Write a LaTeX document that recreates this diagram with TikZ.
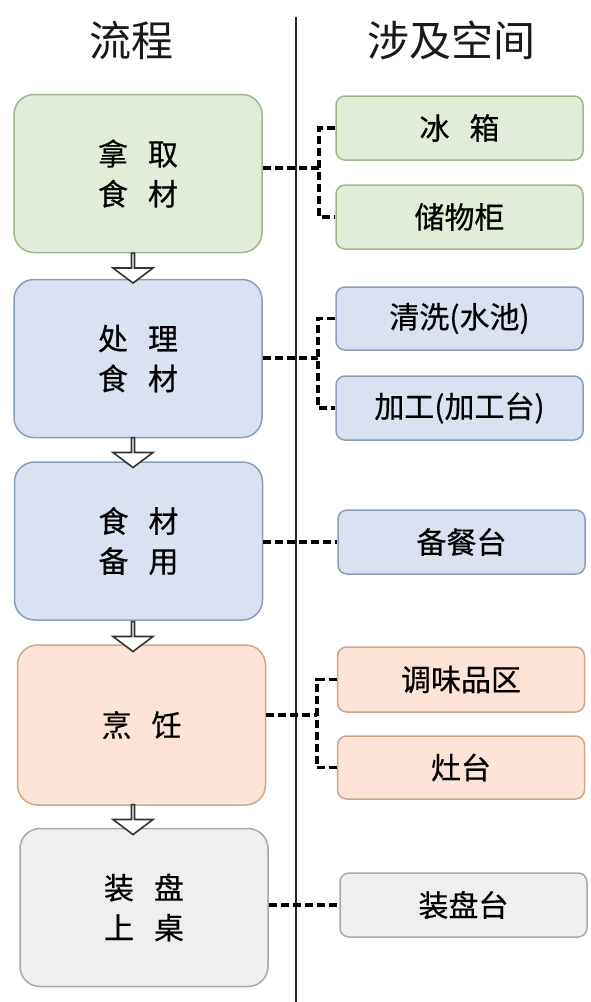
\documentclass[tikz,border=0pt]{standalone}
\usepackage{fontspec}
\newfontfamily\cjk{Noto Sans CJK SC}
\newfontfamily\cjkbox{Noto Sans CJK SC}[UprightFeatures={FakeBold=0.5}]
\usetikzlibrary{shapes.arrows}
\definecolor{greenfill}{HTML}{E2EDD9}
\definecolor{greenline}{HTML}{9EB889}
\definecolor{bluefill}{HTML}{DAE2F2}
\definecolor{blueline}{HTML}{8A9EBB}
\definecolor{orangefill}{HTML}{FBE4D7}
\definecolor{orangeline}{HTML}{CDA888}
\definecolor{grayfill}{HTML}{EFEFEF}
\definecolor{grayline}{HTML}{A8A8A8}
\newcommand\zikong{\hspace{20pt}}
\begin{document}
\begin{tikzpicture}[x=1pt, y=-1pt,
    stepbox/.style={draw, rounded corners=20pt, line width=1.5pt, minimum width=248pt, minimum height=158pt, align=center, text=black, font=\cjkbox\fontsize{30}{40}\selectfont},
    spacebox/.style={draw, rounded corners=9pt, line width=1.5pt, minimum width=247pt, minimum height=64pt, text=black, font=\cjkbox\fontsize{30}{36}\selectfont},
    title/.style={text=black!90, font=\cjk\fontsize{42}{42}\selectfont},
    link/.style={line width=3.5pt, dash pattern=on 8pt off 4pt, black},
    flowarrow/.style={single arrow, draw=black!80, fill=white, line width=1.6pt, rotate=-90, minimum height=30pt, minimum width=40pt, single arrow head extend=10pt, single arrow tip angle=106, inner sep=0pt}]
  \useasboundingbox (0,0) rectangle (591,1002);
  % headings and separator
  \node[title] (flow) at (131,40) {流程};
  \node[title] (space) at (451,40) {涉及空间};
  \draw[line width=1.5pt, black!85] (296,17) -- (296,1002);
  % process steps
  \node[stepbox, fill=greenfill, draw=greenline] (take) at (138,173.5) {拿\zikong 取\\食\zikong 材};
  \node[stepbox, fill=bluefill, draw=blueline] (handle) at (138,358.5) {处\zikong 理\\食\zikong 材};
  \node[stepbox, fill=bluefill, draw=blueline] (ready) at (138.5,541) {食\zikong 材\\备\zikong 用};
  \node[stepbox, fill=orangefill, draw=orangeline, minimum height=160pt] (cook) at (141.5,725) {烹\zikong 饪};
  \node[stepbox, fill=grayfill, draw=grayline] (serve) at (144,907.5) {装\zikong 盘\\上\zikong 桌};
  % arrows between steps
  \node[flowarrow] (ar1) at (133,267.5) {};
  \node[flowarrow] (ar2) at (133,452) {};
  \node[flowarrow] (ar3) at (133,636) {};
  \node[flowarrow] (ar4) at (133,819) {};
  % spaces
  \node[spacebox, fill=greenfill, draw=greenline] (fridge) at (459.5,128) {冰\zikong 箱};
  \node[spacebox, fill=greenfill, draw=greenline] (cabinet) at (459.5,217) {储物柜};
  \node[spacebox, fill=bluefill, draw=blueline, minimum height=63pt] (sink) at (459.5,318.5) {清洗(水池)};
  \node[spacebox, fill=bluefill, draw=blueline] (bench) at (459.5,408) {加工(加工台)};
  \node[spacebox, fill=bluefill, draw=blueline] (counter) at (461.5,542) {备餐台};
  \node[spacebox, fill=orangefill, draw=orangeline, minimum height=65pt] (spice) at (461,679.5) {调味品区};
  \node[spacebox, fill=orangefill, draw=orangeline, minimum height=63pt] (stove) at (461,767.5) {灶台};
  \node[spacebox, fill=grayfill, draw=grayline] (plate) at (463.5,905) {装盘台};
  % dashed links
  \coordinate (j1) at (319,168);
  \coordinate (j2) at (318,358);
  \coordinate (j3) at (317,715);
  \draw[link] (take.east |- j1) -- (j1);
  \draw[link] (fridge.west) -- (fridge.west -| j1) -- (cabinet.west -| j1) -- (cabinet.west);
  \draw[link] (handle.east |- j2) -- (j2);
  \draw[link] (sink.west) -- (sink.west -| j2) -- (bench.west -| j2) -- (bench.west);
  \draw[link] (ready.east |- counter.west) -- (counter.west);
  \draw[link] (cook.east |- j3) -- (j3);
  \draw[link] (spice.west) -- (spice.west -| j3) -- (stove.west -| j3) -- (stove.west);
  \draw[link] (serve.east |- plate.west) -- (plate.west);
\end{tikzpicture}
\end{document}
